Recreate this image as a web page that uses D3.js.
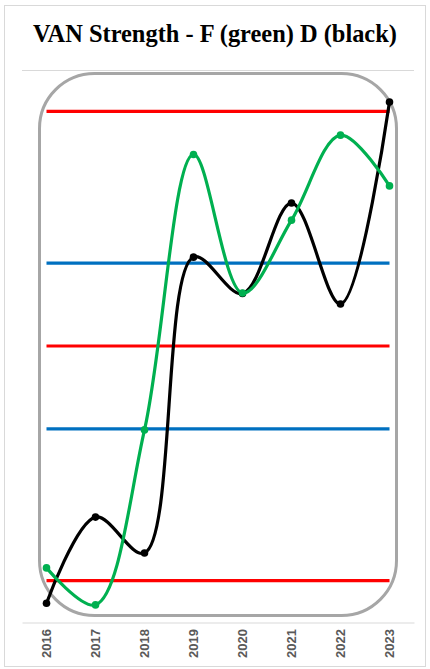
<!DOCTYPE html>
<html>
<head>
<meta charset="utf-8">
<script src="https://cdn.jsdelivr.net/npm/d3@7"></script>
<style>
  html, body { margin: 0; padding: 0; background: #fff; }
  svg { display: block; }
</style>
</head>
<body>
<svg id="chart" width="430" height="669"></svg>
<script>
// ---- data ----
const years = ["2016", "2017", "2018", "2019", "2020", "2021", "2022", "2023"];
const forwards = [9.8, 3.1, 34.8, 84.7, 59.6, 72.8, 88.2, 79.0];   // green (F)
const defense  = [3.4, 19.0, 12.5, 66.1, 59.5, 75.9, 57.6, 94.2];  // black (D)
const redLevels  = [92.5, 50, 7.5];
const blueLevels = [65, 35];
const yDomain = [0, 100];
const titleText = "VAN Strength - F (green) D (black)";

// ---- layout ----
const W = 430, H = 669;
const plot = { left: 22, right: 414, top: 70, bottom: 622 };

const svg = d3.select("#chart");

// outer chart border
svg.append("rect")
  .attr("x", 4.5).attr("y", 5.5).attr("width", 421).attr("height", 661)
  .attr("fill", "#fff").attr("stroke", "#d9d9d9").attr("stroke-width", 1);

// title
const title = svg.append("text")
  .attr("x", 215).attr("y", 42)
  .attr("text-anchor", "middle")
  .attr("font-family", "'Liberation Serif', 'Times New Roman', serif")
  .attr("font-weight", "bold")
  .attr("font-size", 21)
  .attr("fill", "#000")
  .text(titleText);
const tl = title.node().getComputedTextLength();
if (tl > 0) title.attr("font-size", 21 * 364 / tl);

// scales
const x = d3.scaleBand().domain(years).range([plot.left, plot.right]);
const cx = d => x(d) + x.bandwidth() / 2;
const y = d3.scaleLinear().domain(yDomain).range([plot.bottom, plot.top]);

// gridline at top
svg.append("line")
  .attr("x1", plot.left).attr("x2", plot.right)
  .attr("y1", y(yDomain[1]) + 0.5).attr("y2", y(yDomain[1]) + 0.5)
  .attr("stroke", "#d9d9d9").attr("stroke-width", 1);

// x axis
const xAxis = svg.append("g")
  .attr("transform", `translate(0,${y(yDomain[0]) + 0.5})`)
  .call(d3.axisBottom(x).tickSize(0).tickPadding(0));
xAxis.select(".domain").attr("stroke", "#d9d9d9").attr("stroke-width", 1);
xAxis.selectAll("text")
  .attr("font-family", "'Liberation Sans', Arial, sans-serif")
  .attr("font-weight", "bold")
  .attr("font-size", 13)
  .attr("fill", "#595959")
  .attr("text-anchor", "end")
  .attr("dy", null)
  .attr("y", 0)
  .attr("transform", "translate(4.8,6.5) rotate(-90)");

// rounded frame shape
svg.append("rect")
  .attr("x", 39.5).attr("y", 73.5).attr("width", 357).attr("height", 542)
  .attr("rx", 55).attr("ry", 55)
  .attr("fill", "none").attr("stroke", "#a6a6a6").attr("stroke-width", 3);

// reference lines
const refLine = (val, color) => {
  svg.append("path")
    .datum(years.map(yr => [cx(yr), y(val)]))
    .attr("d", d3.line())
    .attr("fill", "none").attr("stroke", color).attr("stroke-width", 3.2);
};
blueLevels.forEach(v => refLine(v, "#0070c0"));
redLevels.forEach(v => refLine(v, "#ff0000"));

// series
const line = d3.line()
  .x((d, i) => cx(years[i]))
  .y(d => y(d))
  .curve(d3.curveCatmullRom.alpha(0.5));

const drawSeries = (vals, color) => {
  svg.append("path")
    .datum(vals)
    .attr("d", line)
    .attr("fill", "none").attr("stroke", color).attr("stroke-width", 3.2)
    .attr("stroke-linejoin", "round");
  svg.append("g").selectAll("circle")
    .data(vals)
    .join("circle")
    .attr("cx", (d, i) => cx(years[i]))
    .attr("cy", d => y(d))
    .attr("r", 3.8)
    .attr("fill", color);
};
drawSeries(defense, "#000000");
drawSeries(forwards, "#00b050");
</script>
</body>
</html>
